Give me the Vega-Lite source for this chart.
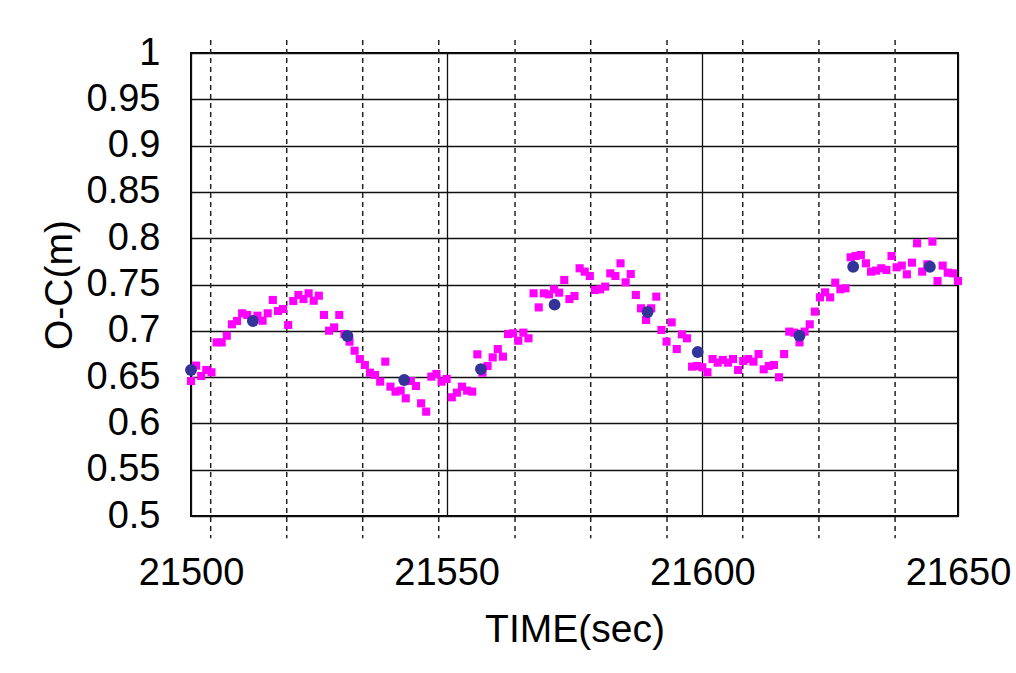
{
  "$schema": "https://vega.github.io/schema/vega-lite/v6.json",
  "width": 767,
  "height": 463,
  "autosize": {"type": "none"},
  "padding": {"left": 191, "top": 53, "right": 58, "bottom": 157},
  "background": "white",
  "config": {
    "view": {"stroke": "#000000", "strokeWidth": 2},
    "font": "Liberation Sans"
  },
  "datasets": {
    "sq": [
      {"t":21500,"v":0.6458},{"t":21501,"v":0.6624},{"t":21502,"v":0.6512},{"t":21503,"v":0.6577},{"t":21504,"v":0.6552},
      {"t":21505,"v":0.6875},{"t":21506,"v":0.6875},{"t":21507,"v":0.6947},{"t":21508,"v":0.7070},{"t":21509,"v":0.7106},
      {"t":21510,"v":0.7189},{"t":21511,"v":0.7171},{"t":21512,"v":0.7120},{"t":21513,"v":0.7163},{"t":21514,"v":0.7109},
      {"t":21515,"v":0.7189},{"t":21516,"v":0.7333},{"t":21517,"v":0.7214},{"t":21518,"v":0.7235},{"t":21519,"v":0.7063},
      {"t":21520,"v":0.7322},{"t":21521,"v":0.7387},{"t":21522,"v":0.7343},{"t":21523,"v":0.7405},{"t":21524,"v":0.7325},
      {"t":21525,"v":0.7379},{"t":21526,"v":0.7171},{"t":21527,"v":0.7001},{"t":21528,"v":0.7037},{"t":21529,"v":0.7171},
      {"t":21530,"v":0.6965},{"t":21531,"v":0.6883},{"t":21532,"v":0.6785},{"t":21533,"v":0.6695},{"t":21534,"v":0.6631},
      {"t":21535,"v":0.6548},{"t":21536,"v":0.6523},{"t":21537,"v":0.6451},{"t":21538,"v":0.6667},{"t":21539,"v":0.6397},
      {"t":21540,"v":0.6343},{"t":21541,"v":0.6354},{"t":21542,"v":0.6271},{"t":21543,"v":0.6458},{"t":21544,"v":0.6404},
      {"t":21545,"v":0.6217},{"t":21546,"v":0.6127},{"t":21547,"v":0.6505},{"t":21548,"v":0.6534},{"t":21549,"v":0.6451},
      {"t":21550,"v":0.6480},{"t":21551,"v":0.6282},{"t":21552,"v":0.6332},{"t":21553,"v":0.6397},{"t":21554,"v":0.6354},
      {"t":21555,"v":0.6343},{"t":21556,"v":0.6746},{"t":21557,"v":0.6548},{"t":21558,"v":0.6620},{"t":21559,"v":0.6713},
      {"t":21560,"v":0.6803},{"t":21561,"v":0.6721},{"t":21562,"v":0.6965},{"t":21563,"v":0.6973},{"t":21564,"v":0.6893},
      {"t":21565,"v":0.6980},{"t":21566,"v":0.6919},{"t":21567,"v":0.7405},{"t":21568,"v":0.7253},{"t":21569,"v":0.7405},
      {"t":21570,"v":0.7394},{"t":21571,"v":0.7448},{"t":21572,"v":0.7412},{"t":21573,"v":0.7549},{"t":21574,"v":0.7343},
      {"t":21575,"v":0.7376},{"t":21576,"v":0.7675},{"t":21577,"v":0.7639},{"t":21578,"v":0.7592},{"t":21579,"v":0.7441},
      {"t":21580,"v":0.7448},{"t":21581,"v":0.7477},{"t":21582,"v":0.7621},{"t":21583,"v":0.7592},{"t":21584,"v":0.7729},
      {"t":21585,"v":0.7523},{"t":21586,"v":0.7613},{"t":21587,"v":0.7387},{"t":21588,"v":0.7243},{"t":21589,"v":0.7117},
      {"t":21590,"v":0.7243},{"t":21591,"v":0.7369},{"t":21592,"v":0.7009},{"t":21593,"v":0.6883},{"t":21594,"v":0.7091},
      {"t":21595,"v":0.6803},{"t":21596,"v":0.6962},{"t":21597,"v":0.6919},{"t":21598,"v":0.6613},{"t":21599,"v":0.6620},
      {"t":21600,"v":0.6606},{"t":21601,"v":0.6552},{"t":21602,"v":0.6695},{"t":21603,"v":0.6656},{"t":21604,"v":0.6685},
      {"t":21605,"v":0.6656},{"t":21606,"v":0.6695},{"t":21607,"v":0.6577},{"t":21608,"v":0.6674},{"t":21609,"v":0.6695},
      {"t":21610,"v":0.6667},{"t":21611,"v":0.6749},{"t":21612,"v":0.6584},{"t":21613,"v":0.6620},{"t":21614,"v":0.6631},
      {"t":21615,"v":0.6498},{"t":21616,"v":0.6749},{"t":21617,"v":0.6991},{"t":21618,"v":0.6980},{"t":21619,"v":0.6875},
      {"t":21620,"v":0.6991},{"t":21621,"v":0.7070},{"t":21622,"v":0.7207},{"t":21623,"v":0.7361},{"t":21624,"v":0.7415},
      {"t":21625,"v":0.7361},{"t":21626,"v":0.7520},{"t":21627,"v":0.7448},{"t":21628,"v":0.7459},{"t":21629,"v":0.7794},
      {"t":21630,"v":0.7808},{"t":21631,"v":0.7819},{"t":21632,"v":0.7729},{"t":21633,"v":0.7639},{"t":21634,"v":0.7650},
      {"t":21635,"v":0.7675},{"t":21636,"v":0.7657},{"t":21637,"v":0.7808},{"t":21638,"v":0.7686},{"t":21639,"v":0.7704},
      {"t":21640,"v":0.7610},{"t":21641,"v":0.7736},{"t":21642,"v":0.7945},{"t":21643,"v":0.7639},{"t":21644,"v":0.7718},
      {"t":21645,"v":0.7963},{"t":21646,"v":0.7538},{"t":21647,"v":0.7704},{"t":21648,"v":0.7628},{"t":21649,"v":0.7621},
      {"t":21650,"v":0.7538}
    ],
    "dots": [
      {"t":21500.0,"v":0.6577},{"t":21512.1,"v":0.7106},{"t":21530.6,"v":0.6944},{"t":21541.7,"v":0.6469},
      {"t":21556.7,"v":0.6587},{"t":21571.1,"v":0.7282},{"t":21589.3,"v":0.7203},{"t":21599.1,"v":0.6771},
      {"t":21619.0,"v":0.6947},{"t":21629.5,"v":0.7692},{"t":21644.5,"v":0.7692}
    ],
    "marks": [
      {"t":21503.85},{"t":21518.72},{"t":21533.58},{"t":21548.45},{"t":21563.37},
      {"t":21578.17},{"t":21593.09},{"t":21607.9},{"t":21622.8},{"t":21637.7}
    ]
  },
  "layer": [
    {
      "data": {"name": "marks"},
      "mark": {"type": "rule", "color": "#222222", "strokeWidth": 1.5, "strokeDash": [5, 4], "clip": false},
      "encoding": {
        "x": {"field": "t", "type": "quantitative",
          "scale": {"domain": [21500, 21650], "nice": false, "zero": false},
          "axis": {
            "title": "TIME(sec)",
            "values": [21500, 21550, 21600, 21650],
            "format": "d",
            "grid": true, "gridColor": "#111111", "gridWidth": 1.3, "gridOpacity": 1,
            "ticks": false, "domain": false,
            "labelFont": "Liberation Sans", "labelFontSize": 38, "labelColor": "#000000",
            "labelPadding": 38, "labelFlush": false, "labelOverlap": false, "labelBound": false,
            "titleFont": "Liberation Sans", "titleFontSize": 39, "titleFontWeight": "normal", "titleColor": "#000000",
            "titlePadding": 18
          }
        },
        "y": {"datum": 1.014, "type": "quantitative",
          "scale": {"domain": [0.5, 1], "nice": false, "zero": false},
          "axis": {
            "title": "O-C(m)",
            "values": [0.5, 0.55, 0.6, 0.65, 0.7, 0.75, 0.8, 0.85, 0.9, 0.95, 1],
            "format": ".2~f",
            "grid": true, "gridColor": "#111111", "gridWidth": 1.3, "gridOpacity": 1,
            "ticks": false, "domain": false,
            "labelFont": "Liberation Sans", "labelFontSize": 38, "labelColor": "#000000",
            "labelPadding": 31, "labelOverlap": false, "labelBound": false, "labelFlush": false,
            "titleFont": "Liberation Sans", "titleFontSize": 39, "titleFontWeight": "normal", "titleColor": "#000000",
            "titleX": -132, "titleY": 231.5, "titleAngle": -90, "titleBaseline": "middle", "titleAlign": "center"
          }
        },
        "y2": {"datum": 0.476}
      }
    },
    {
      "data": {"name": "sq"},
      "mark": {"type": "square", "color": "#FF00FF", "opacity": 1, "filled": true, "size": 66},
      "encoding": {
        "x": {"field": "t", "type": "quantitative"},
        "y": {"field": "v", "type": "quantitative"}
      }
    },
    {
      "data": {"name": "dots"},
      "mark": {"type": "circle", "color": "#333399", "opacity": 1, "size": 140},
      "encoding": {
        "x": {"field": "t", "type": "quantitative"},
        "y": {"field": "v", "type": "quantitative"}
      }
    }
  ]
}
